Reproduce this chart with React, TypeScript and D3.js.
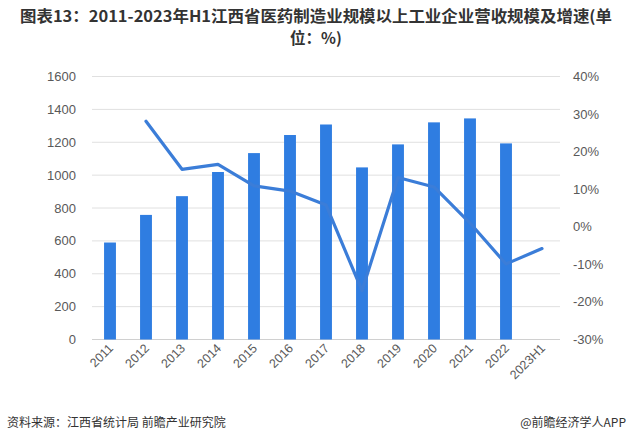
import React from "react";
import * as d3 from "d3";

const categories = ["2011","2012","2013","2014","2015","2016","2017","2018","2019","2020","2021","2022","2023H1"];
const revenue: (number | null)[] = [590, 758, 872, 1019, 1134, 1244, 1308, 1047, 1187, 1321, 1345, 1193, null];
const growth: (number | null)[] = [null, 28.1, 15.3, 16.6, 10.9, 9.5, 5.8, -17.0, 13.1, 10.6, 1.0, -9.9, -5.8];
const leftTicks = [0, 200, 400, 600, 800, 1000, 1200, 1400, 1600];
const rightTicks = [-30, -20, -10, 0, 10, 20, 30, 40];
const titleLine1 = "图表13：2011-2023年H1江西省医药制造业规模以上工业企业营收规模及增速(单";
const titleLine2 = "位：%)";
const sourceText = "资料来源：江西省统计局 前瞻产业研究院";
const creditText = "@前瞻经济学人APP";

const W = 632, H = 444;
const plot = { left: 92, right: 560, top: 76.5, bottom: 339.5 };
const barColor = "#2f7de1";
const lineColor = "#3b7dd8";
const font = "'Liberation Sans', 'Noto Sans CJK SC', sans-serif";

export default function App() {
  const x = d3.scaleBand<string>().domain(categories).range([plot.left, plot.right]).paddingInner(0.67).paddingOuter(0.335);
  const xc = d3.scalePoint<string>().domain(categories).range([plot.left + 18, plot.right - 18]);
  const yL = d3.scaleLinear().domain([0, 1600]).range([plot.bottom, plot.top]);
  const yR = d3.scaleLinear().domain([-30, 40]).range([plot.bottom, plot.top]);
  const lineGen = d3.line<number | null>()
    .defined((d) => d !== null)
    .x((_, i) => xc(categories[i]) as number)
    .y((d) => yR(d as number));

  return (
    <svg width={W} height={H} style={{ position: "absolute", left: 0, top: 0, background: "#fff" }} fontFamily={font}>
      <rect width={W} height={H} fill="#fff" />
      <text x={316} y={22} textAnchor="middle" fontSize={15.5} fontWeight="bold" fill="#333" fontFamily="'Noto Sans CJK SC', sans-serif" textLength={592} lengthAdjust="spacingAndGlyphs">{titleLine1}</text>
      <text x={316} y={44} textAnchor="middle" fontSize={15.5} fontWeight="bold" fill="#333" fontFamily="'Noto Sans CJK SC', sans-serif">{titleLine2}</text>

      {leftTicks.map((t) => (
        <g key={"g" + t}>
          <line x1={plot.left} x2={plot.right} y1={yL(t)} y2={yL(t)} stroke={t === 0 ? "#d0d0d0" : "#e0e0e0"} strokeWidth={1} />
          <text x={76} y={yL(t)} dy="0.35em" textAnchor="end" fontSize={13} fill="#595959">{t}</text>
        </g>
      ))}
      {rightTicks.map((t) => (
        <text key={"r" + t} x={573} y={yR(t)} dy="0.35em" textAnchor="start" fontSize={13} fill="#595959">{t + "%"}</text>
      ))}

      {categories.map((c, i) =>
        revenue[i] === null ? null : (
          <rect key={"b" + c} x={x(c)} y={yL(revenue[i] as number)} width={x.bandwidth()} height={plot.bottom - yL(revenue[i] as number)} fill={barColor} />
        )
      )}

      <path d={lineGen(growth) || ""} fill="none" stroke={lineColor} strokeWidth={3.2} strokeLinejoin="round" strokeLinecap="round" />

      {categories.map((c) => {
        const cx = xc(c) as number + 4;
        const cy = 349;
        return (
          <text key={"x" + c} x={cx} y={cy} transform={`rotate(-45 ${cx} ${cy})`} textAnchor="end" fontSize={12.5} fill="#595959">{c}</text>
        );
      })}

      <text x={7} y={427} fontSize={12} fill="#333" fontFamily="'Noto Sans CJK SC', sans-serif">{sourceText}</text>
      <text x={626} y={427} textAnchor="end" fontSize={12} fill="#333" fontFamily="'Noto Sans CJK SC', sans-serif">{creditText}</text>
    </svg>
  );
}
